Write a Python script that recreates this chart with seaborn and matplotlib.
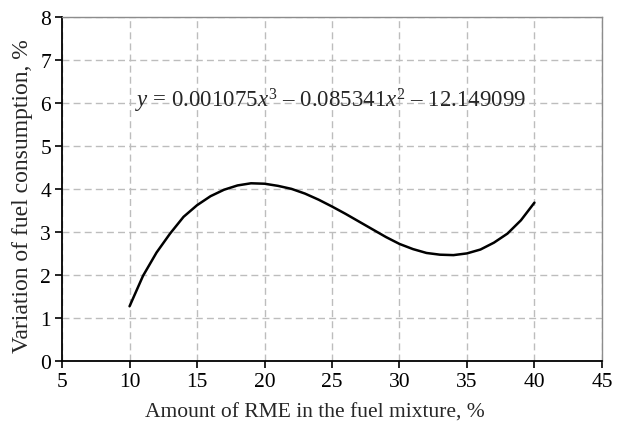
import pandas as pd
import matplotlib.pyplot as plt
import seaborn as sns

# values
RME_SHARE = [10, 11, 12, 13, 14, 15, 16, 17, 18, 19, 20, 21, 22, 23, 24, 25,
             26, 27, 28, 29, 30, 31, 32, 33, 34, 35, 36, 37, 38, 39, 40]
FUEL_VARIATION = [1.27, 1.98, 2.52, 2.96, 3.35, 3.62, 3.83, 3.98, 4.08, 4.13,
                  4.12, 4.07, 4.00, 3.89, 3.75, 3.59, 3.42, 3.24, 3.06, 2.88,
                  2.72, 2.60, 2.51, 2.47, 2.46, 2.50, 2.59, 2.75, 2.96, 3.27,
                  3.68]
X_TICKS = [5, 10, 15, 20, 25, 30, 35, 40, 45]
Y_TICKS = [0, 1, 2, 3, 4, 5, 6, 7, 8]
EQUATION = r"$y$ = 0.001075$x^3$ – 0.085341$x^2$ – 12.149099"

sns.set_style("white")
plt.rcParams["font.family"] = ["Liberation Serif", "DejaVu Serif"]
plt.rcParams["mathtext.fontset"] = "custom"
plt.rcParams["mathtext.rm"] = "Liberation Serif"
plt.rcParams["mathtext.it"] = "Liberation Serif:italic"

df = pd.DataFrame({"x": RME_SHARE, "y": FUEL_VARIATION})

fig = plt.figure(figsize=(6.27, 4.35), dpi=100)
ax = fig.add_axes([0.099, 0.168, 0.861, 0.791])
sns.lineplot(data=df, x="x", y="y", ax=ax, color="black", linewidth=1.8)

ax.set_xlim(5, 45)
ax.set_ylim(0, 8)
ax.set_xticks(X_TICKS)
ax.set_yticks(Y_TICKS)
ax.grid(True, linestyle=(0, (5, 3)), color="#bdbdbd", linewidth=1.0)
ax.set_axisbelow(True)

for side in ["left", "bottom"]:
    ax.spines[side].set_color("black")
    ax.spines[side].set_linewidth(1.3)
for side in ["top", "right"]:
    ax.spines[side].set_color("#8c8c8c")
    ax.spines[side].set_linewidth(1.0)

ax.tick_params(axis="both", direction="out", length=5, width=1.2,
               labelsize=15.5, colors="black", pad=3)
ax.tick_params(left=True, bottom=True)

ax.set_xlabel("Amount of RME in the fuel mixture, %", fontsize=15.5)
ax.set_ylabel("Variation of fuel consumption, %", fontsize=17)
ax.xaxis.set_label_coords(0.469, -0.122)
ax.yaxis.set_label_coords(-0.053, 0.483)

ax.text(10.4, 6.08, EQUATION, fontsize=16.5, va="center", ha="left")

fig.savefig("out.png", dpi=100)
